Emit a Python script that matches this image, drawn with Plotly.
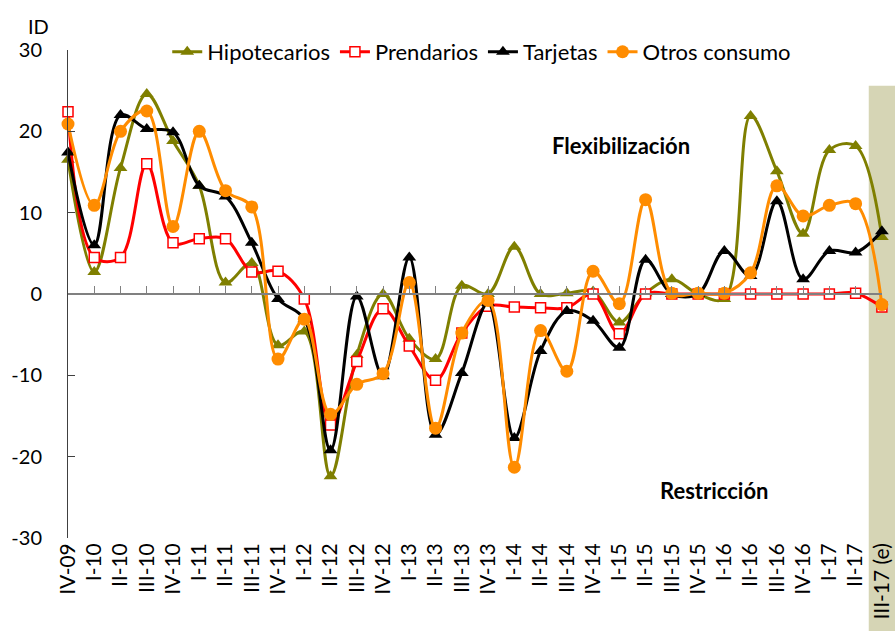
import plotly.graph_objects as go

categories = ["IV-09", "I-10", "II-10", "III-10", "IV-10", "I-11", "II-11", "III-11", "IV-11",
              "I-12", "II-12", "III-12", "IV-12", "I-13", "II-13", "III-13", "IV-13",
              "I-14", "II-14", "III-14", "IV-14", "I-15", "II-15", "III-15", "IV-15",
              "I-16", "II-16", "III-16", "IV-16", "I-17", "II-17", "III-17 (e)"]

hipotecarios = [16.5, 2.7, 15.5, 24.6, 18.8, 13.3, 1.4, 3.8, -6.3, -4.6, -22.4, -7.5, 0.0, -5.5,
                -8.0, 1.0, 0.0, 5.8, 0.0, 0.1, 0.3, -3.5, 0.1, 1.8, 0.0, -0.6, 21.9, 15.1, 7.4,
                17.7, 18.2, 7.0]
prendarios = [22.4, 4.5, 4.5, 16.0, 6.3, 6.8, 6.8, 2.7, 2.8, -0.6, -16.1, -8.3, -1.8, -6.4,
              -10.6, -4.8, -1.5, -1.6, -1.7, -1.7, 0.0, -4.9, 0.0, 0.0, 0.0, 0.0, 0.0, 0.0,
              0.0, 0.0, 0.1, -1.6]
tarjetas = [17.4, 6.0, 22.0, 20.3, 19.9, 13.3, 12.0, 6.3, -0.6, -3.1, -19.2, -0.3, -10.1, 4.5,
            -17.3, -9.7, -1.1, -17.7, -7.0, -2.1, -3.3, -6.6, 4.2, 0.0, 0.0, 5.3, 2.2, 11.4,
            1.8, 5.3, 5.1, 7.7]
otros_consumo = [20.9, 10.9, 20.0, 22.5, 8.3, 20.0, 12.7, 10.7, -8.0, -3.1, -14.8, -11.1, -9.8,
                 1.4, -16.5, -4.8, -0.8, -21.3, -4.5, -9.5, 2.8, -1.2, 11.6, 0.1, 0.1, 0.1, 2.6,
                 13.3, 9.6, 10.9, 11.1, -1.3]

y_ticks = [-30, -20, -10, 0, 10, 20, 30]
y_tick_labels = ["-30", "-20", "-10", "0", "10", "20", "30"]
band_top = 25.6  # top of the shaded "estimated" band, in ID units

FONT = "Lato"
n = len(categories)

fig = go.Figure()

series = [
    ("Hipotecarios", hipotecarios, "#7F7F00", dict(symbol="triangle-up", size=12, color="#7F7F00")),
    ("Prendarios", prendarios, "#FF0000", dict(symbol="square", size=10, color="white",
                                              line=dict(color="#FF0000", width=1.5))),
    ("Tarjetas", tarjetas, "#000000", dict(symbol="triangle-up", size=12, color="#000000")),
    ("Otros consumo", otros_consumo, "#FF8C00", dict(symbol="circle", size=13, color="#FF8C00")),
]
for name, vals, col, mk in series:
    fig.add_trace(go.Scatter(
        x=categories, y=vals, name=name, mode="lines+markers",
        line=dict(color=col, width=3, shape="spline", smoothing=1.0),
        marker=mk, cliponaxis=False,
    ))

# empty helper trace so the zero-level category axis (x2) is drawn
fig.add_trace(go.Scatter(x=[], y=[], xaxis="x2", yaxis="y", showlegend=False,
                         hoverinfo="skip", mode="lines"))

# shaded band for the estimated quarter
fig.add_shape(type="rect", xref="x", yref="paper",
              x0=n - 1.5, x1=n - 0.5, y0=-0.5, y1=(band_top + 30) / 60,
              fillcolor="#D6D5B5", line=dict(width=0), layer="below")

fig.update_layout(
    width=895, height=631,
    margin=dict(l=68, r=0, t=50, b=93, autoexpand=False),
    paper_bgcolor="white", plot_bgcolor="rgba(0,0,0,0)",
    font=dict(family=FONT, color="black", size=20),
    showlegend=True,
    legend=dict(orientation="h", x=0.12, y=0.996, xanchor="left", yanchor="middle",
                bgcolor="rgba(0,0,0,0)", font=dict(family=FONT, size=22),
                itemwidth=30, tracegroupgap=0),
    xaxis=dict(type="category", categoryorder="array", categoryarray=categories,
               range=[0, n - 0.5], showline=False, ticks="", showgrid=False,
               zeroline=False, tickangle=-90, automargin=False,
               tickfont=dict(family=FONT, size=21)),
    xaxis2=dict(anchor="free", position=0.5, domain=[0, (n - 1) / (n - 0.5)],
                range=[0, n - 1], type="linear", tickmode="linear", tick0=0, dtick=1,
                ticks="inside", ticklen=7, tickcolor="#808080", tickwidth=1,
                showline=True, linecolor="#808080", linewidth=1.5, automargin=False,
                showticklabels=False, showgrid=False, zeroline=False),
    yaxis=dict(range=[-30, 30], tickmode="array", tickvals=y_ticks, ticktext=y_tick_labels,
               ticks="inside", ticklen=7, tickcolor="#404040",
               showline=True, linecolor="#404040", linewidth=1,
               showgrid=False, zeroline=False, ticklabelstandoff=21, automargin=False,
               tickfont=dict(family=FONT, size=20)),
    annotations=[
        dict(text="ID", xref="paper", yref="paper", x=-0.036, y=1.049,
             xanchor="center", yanchor="middle", showarrow=False,
             font=dict(family=FONT, size=20)),
        dict(text="<b>Flexibilización</b>", xref="x", yref="y", x=21.06, y=18.3,
             xanchor="center", yanchor="middle", showarrow=False,
             font=dict(family=FONT, size=22)),
        dict(text="<b>Restricción</b>", xref="x", yref="y", x=24.6, y=-24.2,
             xanchor="center", yanchor="middle", showarrow=False,
             font=dict(family=FONT, size=22)),
    ],
)

# remove the browser's default page margin so the figure fills the window exactly
fig.write_html("out.html", config={"displayModeBar": False},
               post_script="document.body.style.margin='0';document.body.style.overflow='hidden';")
